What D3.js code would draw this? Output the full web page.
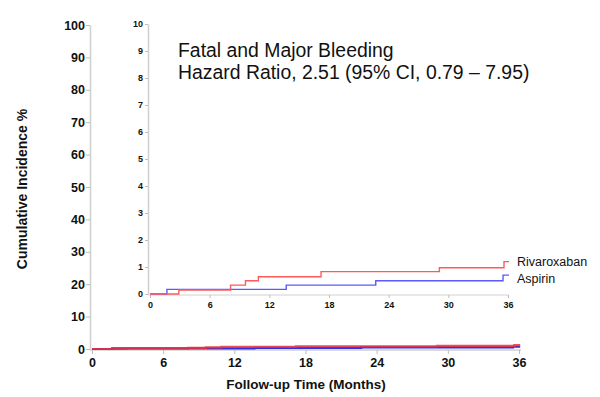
<!DOCTYPE html>
<html><head><meta charset="utf-8">
<script src="https://cdn.jsdelivr.net/npm/d3@7"></script>
<style>body{margin:0;background:#fff}svg{display:block}</style>
</head><body><svg id="c" width="600" height="397"></svg>
<script>
const titleLines = ["Fatal and Major Bleeding", "Hazard Ratio, 2.51 (95% CI, 0.79 \u2013 7.95)"];
const seriesNames = ["Rivaroxaban", "Aspirin"];
const rivaTimes = [0, 2.9, 8.1, 9.6, 10.9, 17.2, 29.1, 35.6, 36.1];
const rivaValues = [0, 0.15, 0.33, 0.49, 0.64, 0.83, 0.97, 1.2, 1.2];
const aspTimes = [0, 1.7, 13.7, 22.7, 35.5, 36.1];
const aspValues = [0, 0.17, 0.33, 0.49, 0.7, 0.7];
const mainXTicks = [0, 6, 12, 18, 24, 30, 36];
const mainYTicks = [0, 10, 20, 30, 40, 50, 60, 70, 80, 90, 100];
const insetYTicks = [0, 1, 2, 3, 4, 5, 6, 7, 8, 9, 10];
const xLabel = "Follow-up Time (Months)";
const yLabel = "Cumulative Incidence %";

const svg = d3.select("#c");
const font = "'Liberation Sans', Arial, sans-serif";

const riva = rivaTimes.map((t, i) => [t, rivaValues[i]]);
const asp = aspTimes.map((t, i) => [t, aspValues[i]]);

// Main chart
const xM = d3.scaleLinear().domain([0, 36]).range([92, 519]);
const yM = d3.scaleLinear().domain([0, 100]).range([349, 25]);

function styleAxis(g, fs) {
  g.selectAll("path.domain").attr("stroke", "#cfcfcf").attr("stroke-width", 1.5);
  g.selectAll(".tick line").attr("stroke", "#bdbdbd");
  g.selectAll("text").attr("font-family", font).attr("font-weight", "bold")
    .attr("font-size", fs).attr("fill", "#111");
}

const gmy = svg.append("g").attr("transform", "translate(90,0)")
  .call(d3.axisLeft(yM).tickValues(mainYTicks).tickSize(4).tickPadding(1).tickSizeOuter(0));
styleAxis(gmy, 12.5);
const gmx = svg.append("g").attr("transform", "translate(0,350)")
  .call(d3.axisBottom(xM).tickValues(mainXTicks).tickSize(4).tickPadding(4).tickSizeOuter(0));
styleAxis(gmx, 12.5);
gmx.select("path.domain").attr("d", "M90,0H521");

const lineM = d3.line().x(d => xM(d[0])).y(d => yM(d[1])).curve(d3.curveStepAfter);
svg.append("path").datum(asp).attr("d", lineM).attr("fill", "none").attr("stroke", "#3030e0").attr("stroke-width", 2.2);
svg.append("path").datum(riva).attr("d", lineM).attr("fill", "none").attr("stroke", "#e8303a").attr("stroke-width", 2.2)
  .attr("stroke-opacity", 0.85);

svg.append("text").attr("x", 306).attr("y", 389).attr("text-anchor", "middle")
  .attr("font-family", font).attr("font-weight", "bold").attr("font-size", 13.5).attr("fill", "#111").text(xLabel);
svg.append("text").attr("transform", "translate(27,189) rotate(-90)").attr("text-anchor", "middle")
  .attr("font-family", font).attr("font-weight", "bold").attr("font-size", 14).attr("fill", "#111").text(yLabel);

// Inset chart
const xI = d3.scaleLinear().domain([0, 36]).range([150, 508]);
const yI = d3.scaleLinear().domain([0, 10]).range([294, 24]);

const giy = svg.append("g").attr("transform", "translate(148,0)")
  .call(d3.axisLeft(yI).tickValues(insetYTicks).tickSize(3).tickPadding(2).tickSizeOuter(0));
styleAxis(giy, 9);
const gix = svg.append("g").attr("transform", "translate(0,295)")
  .call(d3.axisBottom(xI).tickValues(mainXTicks).tickSize(3).tickPadding(4).tickSizeOuter(0));
styleAxis(gix, 9);
gix.select("path.domain").attr("d", "M148,0H509").attr("stroke", "#e0e0e0");

const lineI = d3.line().x(d => xI(d[0])).y(d => yI(d[1])).curve(d3.curveStepAfter);
svg.append("path").datum(asp).attr("d", lineI).attr("fill", "none").attr("stroke", "#5a5aff").attr("stroke-width", 1.4);
svg.append("path").datum(riva).attr("d", lineI).attr("fill", "none").attr("stroke", "#ff5a5a").attr("stroke-width", 1.4);

// Legend labels
const lastR = riva[riva.length - 1], lastA = asp[asp.length - 1];
svg.append("text").attr("x", 517).attr("y", yI(lastR[1]) + 4.5).attr("font-family", font)
  .attr("font-size", 12.5).attr("fill", "#111").text(seriesNames[0]);
svg.append("text").attr("x", 517).attr("y", yI(lastA[1]) + 7.5).attr("font-family", font)
  .attr("font-size", 12.5).attr("fill", "#111").text(seriesNames[1]);

// Title
svg.selectAll("text.title").data(titleLines).join("text").attr("class", "title")
  .attr("x", 178).attr("y", (d, i) => 57 + i * 22).attr("font-family", font)
  .attr("font-size", 19.4).attr("fill", "#111").text(d => d);
</script></body></html>
